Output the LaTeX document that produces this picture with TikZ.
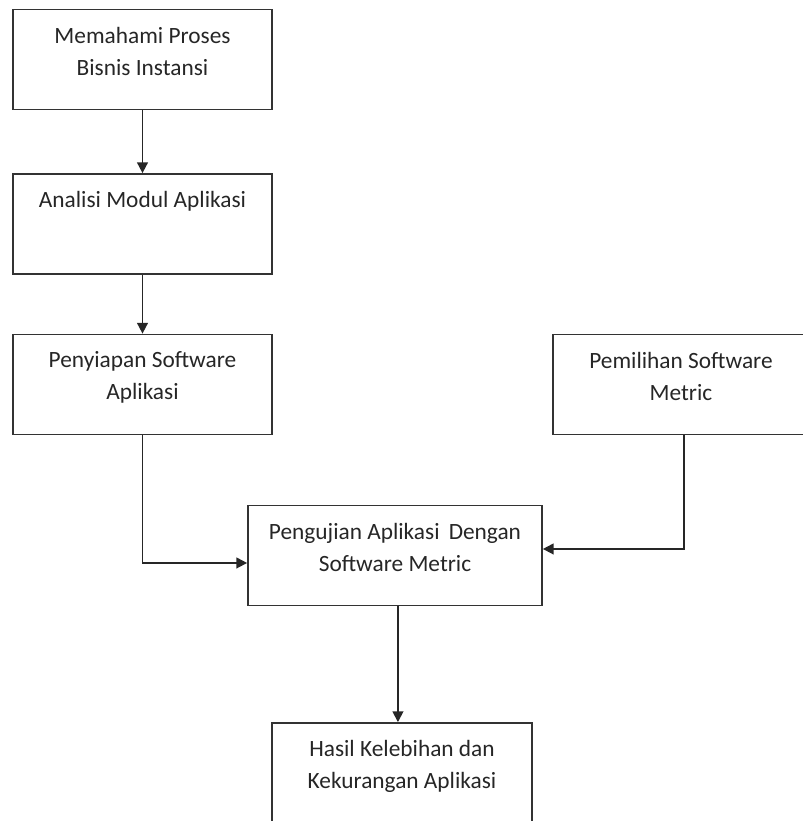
\documentclass[tikz,border=0pt]{standalone}
\usepackage{fontspec}
\setmainfont{Carlito}
\usetikzlibrary{positioning,arrows.meta}
\tikzset{
  box/.style={draw=black!80, line width=1.3pt, minimum width=194pt, minimum height=75pt, inner sep=0pt},
  txt/.style={anchor=north, align=center, inner sep=0pt, text=black!85, font=\fontsize{17.5}{24}\selectfont},
  arr/.style={draw=black!85, line width=1.3pt, -{Triangle[length=8pt,width=8pt]}}
}
\begin{document}
\begin{tikzpicture}[x=0.75pt, y=-0.75pt]
\useasboundingbox (0,0) rectangle (803,821);
% boxes
\node[box] (b1) at (142.5,59.5) {};
\node[box] (b2) at (142.5,224) {};
\node[box] (b3) at (142.5,384.5) {};
\node[box, minimum width=192pt] (b4) at (681,384.5) {};
\node[box, minimum width=220.5pt] (b5) at (395,555.5) {};
\node[box, minimum width=195pt] (b6) at (402,773) {};
% texts
\node[txt] (t1) at ([yshift=-13.5pt]b1.north) {Memahami Proses\\Bisnis Instansi};
\node[txt] (t2) at ([yshift=-13.5pt]b2.north) {Analisi Modul Aplikasi};
\node[txt] (t3) at ([yshift=-13.5pt]b3.north) {Penyiapan Software\\Aplikasi};
\node[txt] (t4) at ([yshift=-13.5pt]b4.north) {Pemilihan Software\\Metric};
\node[txt] (t5) at ([yshift=-13.5pt]b5.north) {Pengujian Aplikasi\, Dengan\\Software Metric};
\node[txt] (t6) at ([yshift=-13.5pt]b6.north) {Hasil Kelebihan dan\\Kekurangan Aplikasi};
% arrows
\draw[arr] (b1.south) -- (b2.north);
\draw[arr] (b2.south) -- (b3.north);
\draw[arr] (b3.south) |- ([yshift=-5.6pt]b5.west);
\draw[arr] ([xshift=2.2pt]b4.south) |- ([yshift=4.9pt]b5.east);
\draw[arr] ([xshift=2.2pt]b5.south) -- ([xshift=2.2pt]b5.south |- b6.north);
\end{tikzpicture}
\end{document}
